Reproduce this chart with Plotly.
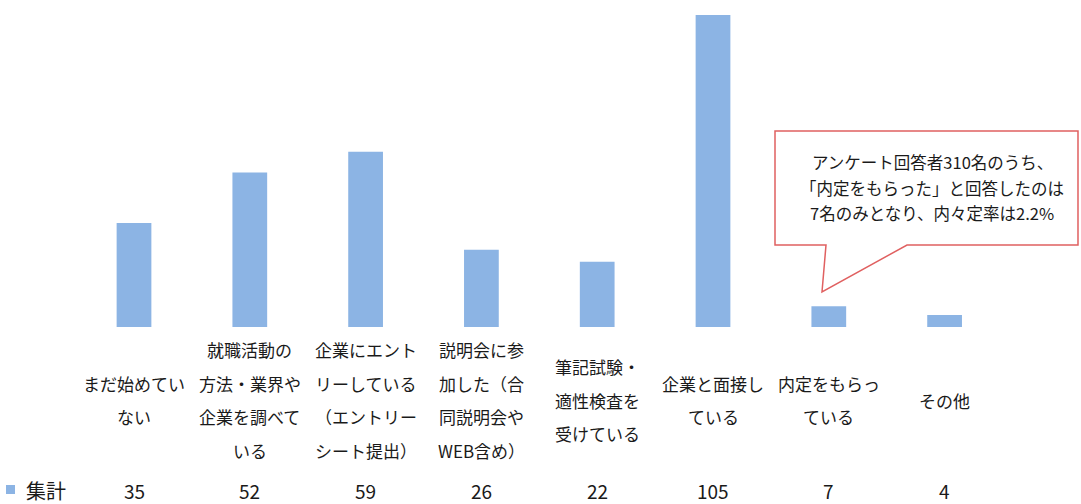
import plotly.graph_objects as go

# ---- data ----
categories = [
    ["まだ始めてい", "ない"],
    ["就職活動の", "方法・業界や", "企業を調べて", "いる"],
    ["企業にエント", "リーしている", "（エントリー", "シート提出）"],
    ["説明会に参", "加した（合", "同説明会や", "WEB含め）"],
    ["筆記試験・", "適性検査を", "受けている"],
    ["企業と面接し", "ている"],
    ["内定をもらっ", "ている"],
    ["その他"],
]
values = [35, 52, 59, 26, 22, 105, 7, 4]
series_name = "集計"
callout_lines = [
    "アンケート回答者310名のうち、",
    "「内定をもらった」と回答したのは",
    "7名のみとなり、内々定率は2.2%",
]

# ---- layout helpers (pixels) ----
W, H = 1081, 504
BAR_COLOR = "#8cb4e4"
FONT = "Noto Sans CJK JP"
TEXT_COLOR = "#1a1a1a"

def px_x(p):
    return p / W

def px_y(p):
    return 1 - p / H

n = len(values)
cat_w = 115.8
first_c = 134
left = first_c - cat_w / 2
right = left + cat_w * n
base_y = 327
px_per_unit = 2.971
ymax = base_y / px_per_unit

x = list(range(n))

fig = go.Figure()
fig.add_trace(go.Bar(
    x=x, y=values, width=0.30, marker=dict(color=BAR_COLOR, line=dict(width=0)),
    name=series_name, showlegend=False, hoverinfo="y",
))

annotations = []
# category labels (vertically centred around y=400, line pitch ~33px)
for i, lines in enumerate(categories):
    m = len(lines)
    for j, ln in enumerate(lines):
        py = 400 + (j - (m - 1) / 2) * 33.5
        annotations.append(dict(
            x=i, y=px_y(py), xref="x", yref="paper", text=ln, showarrow=False,
            xanchor="center", yanchor="middle",
            font=dict(family=FONT, size=17, color=TEXT_COLOR),
        ))

# data table row
row_y = px_y(490)
for i, v in enumerate(values):
    annotations.append(dict(
        x=i, y=row_y, xref="x", yref="paper", text=str(v), showarrow=False,
        xanchor="center", yanchor="middle",
        font=dict(family=FONT, size=19, color=TEXT_COLOR),
    ))
annotations.append(dict(
    x=px_x(24), y=row_y, xref="paper", yref="paper", text=series_name, showarrow=False,
    xanchor="left", yanchor="middle",
    font=dict(family=FONT, size=20, color=TEXT_COLOR),
))

# callout text
for j, ln in enumerate(callout_lines):
    annotations.append(dict(
        x=px_x(932), y=px_y(162 + j * 25.5), xref="paper", yref="paper", text=ln,
        showarrow=False, xanchor="center", yanchor="middle",
        font=dict(family=FONT, size=16.5, color=TEXT_COLOR),
    ))

# callout box path
pts = [(775, 131), (1078, 131), (1078, 245), (907, 245), (822, 292), (826, 245), (775, 245)]
path = "M " + " L ".join(f"{px_x(a):.5f},{px_y(b):.5f}" for a, b in pts) + " Z"

shapes = [
    dict(type="path", xref="paper", yref="paper", path=path,
         line=dict(color="#e06060", width=1.5), fillcolor="white", layer="above"),
    # legend key square
    dict(type="rect", xref="paper", yref="paper",
         x0=px_x(6), x1=px_x(15), y0=px_y(494), y1=px_y(485),
         line=dict(width=0), fillcolor=BAR_COLOR),
]

fig.update_layout(
    width=W, height=H,
    margin=dict(l=0, r=0, t=0, b=0),
    paper_bgcolor="white", plot_bgcolor="white",
    xaxis=dict(domain=[left / W, right / W], range=[-0.5, n - 0.5],
               showticklabels=False, showgrid=False, zeroline=False, showline=False, ticks=""),
    yaxis=dict(domain=[1 - base_y / H, 1], range=[0, ymax],
               showticklabels=False, showgrid=False, zeroline=False, showline=False, ticks=""),
    annotations=annotations,
    shapes=shapes,
    bargap=0.7,
)

fig.write_html("out.html", config={"displayModeBar": False},
               post_script="document.body.style.margin='0';")
